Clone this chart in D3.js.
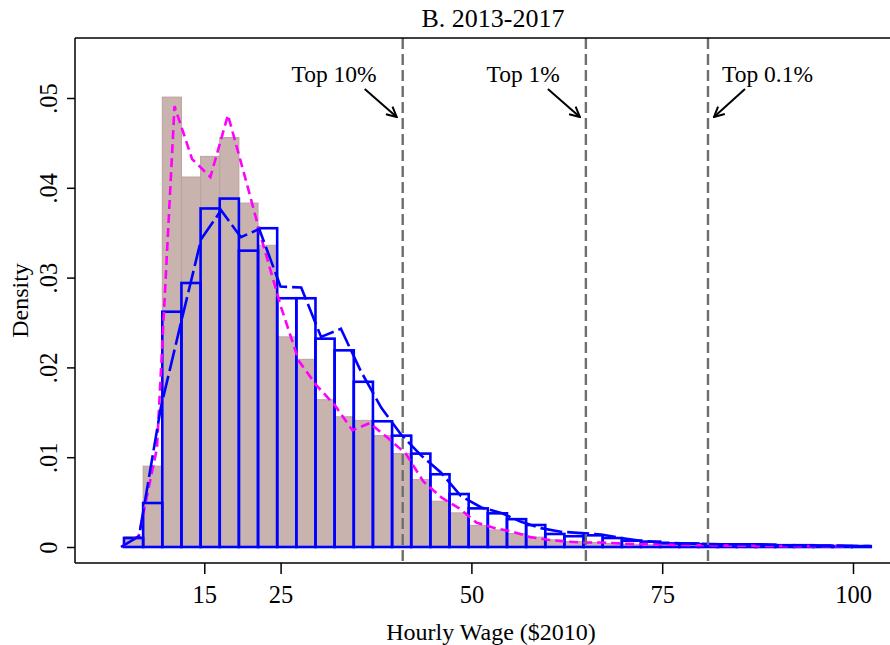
<!DOCTYPE html>
<html>
<head>
<meta charset="utf-8">
<script src="https://cdn.jsdelivr.net/npm/d3@7"></script>
<style>
  body { margin: 0; background: #fff; }
  text { font-family: "Liberation Serif", "Times New Roman", serif; fill: #000; }
</style>
</head>
<body>
<div id="chart"></div>
<script>
// histogram bins (hourly wage, $2010)
const binStart = 4.48;
const binWidth = 2.509;

// 2013-2017 sample: filled bars + magenta kdensity
const brownDensity = [0.00115, 0.0090, 0.0501, 0.0412, 0.0435, 0.0456, 0.0383, 0.0336, 0.0234, 0.0209,
  0.0164, 0.0145, 0.0141, 0.0124, 0.0104, 0.0075, 0.0051, 0.0038, 0.0024, 0.0019,
  0.0015, 0.0011, 0.0008, 0.0006, 0.0005, 0.0004, 0.0003, 0.00025, 0.0002, 0.00015,
  0.00012, 0.0001, 0.0001, 0.00008, 0.00006, 0.00005, 0.00004, 0.00003, 0.00003];

// outlined blue bars
const blueDensity = [0.0010, 0.0049, 0.0262, 0.0294, 0.0377, 0.0388, 0.0330, 0.0355, 0.0277, 0.0277,
  0.0232, 0.0219, 0.0184, 0.0140, 0.0124, 0.0104, 0.0081, 0.0059, 0.0043, 0.00375,
  0.0031, 0.00245, 0.00145, 0.0012, 0.0013, 0.0010, 0.0007, 0.0006, 0.0004, 0.0004,
  0.0003, 0.0003, 0.0003, 0.00025, 0.0002, 0.0002, 0.00015, 0.0001, 0.0001];

// magenta dashed kdensity
const magentaWage = [4.1, 6.4, 8.8, 11.1, 13.4, 15.8, 18.1, 20.4, 22.7, 25.1,
  27.4, 29.7, 32.1, 34.4, 36.7, 39.1, 41.4, 43.7, 46.1, 48.4,
  50.7, 53.1, 55.4, 57.7, 60.1, 62.4, 64.7, 67.0, 69.4, 71.7,
  74.0, 76.4, 78.7, 81.0, 83.4, 85.7, 88.0, 90.4, 92.7, 95.0, 97.4, 99.7];
const magentaDensity = [0, 0.0012, 0.011, 0.0491, 0.0432, 0.0412, 0.0481, 0.041, 0.0337, 0.0266,
  0.0207, 0.018, 0.0158, 0.013, 0.0138, 0.0121, 0.0104, 0.0073, 0.0055, 0.0043,
  0.0027, 0.0021, 0.0017, 0.0011, 0.0008, 0.0006, 0.0005, 0.0005, 0.0004, 0.0003,
  0.0003, 0.00025, 0.0002, 0.0002, 0.00015, 0.00015, 0.00012, 0.0001, 0.0001, 0.0001, 0.0001, 0.00008];

// blue long-dash kdensity
const blueWage = [4.1, 6.45, 9.3, 11.95, 14.6, 17.2, 19.8, 22.2, 25.0, 27.7,
  30.3, 32.9, 35.5, 38.2, 40.8, 43.4, 46.0, 48.6, 51.3, 53.9,
  56.5, 59.1, 61.7, 64.4, 67.0, 69.6, 72.2, 74.8, 77.5, 80.1,
  82.7, 85.3, 87.9, 90.6, 93.2, 95.8, 98.4, 101.0, 102.2];
const blueLineDensity = [0, 0.0012, 0.0155, 0.025, 0.0343, 0.0375, 0.0345, 0.0354, 0.029, 0.0289,
  0.0234, 0.0243, 0.0196, 0.0155, 0.0125, 0.0102, 0.0083, 0.0057, 0.0044, 0.0038,
  0.0028, 0.0021, 0.0017, 0.00155, 0.0014, 0.0010, 0.0007, 0.0005, 0.0004, 0.00035,
  0.0003, 0.0003, 0.0003, 0.0002, 0.0002, 0.00015, 0.00015, 0.0001, 0.0001];

// percentile cut-offs
const cutLabels = ["Top 10%", "Top 1%", "Top 0.1%"];
const cutWages = [41, 65, 81];

const xTicks = [15, 25, 50, 75, 100];
const yTicks = [0, 0.01, 0.02, 0.03, 0.04, 0.05];

// ---------------- layout ----------------
const width = 890, height = 645;
const frame = {left: 75, top: 38, right: 890, bottom: 563};

const svg = d3.select("#chart").append("svg")
    .attr("width", width)
    .attr("height", height);

const x = d3.scaleLinear().domain([0, 100]).range([89.8, 853]);
const y = d3.scaleLinear().domain([0, 0.05]).range([547, 98]);

const bins = brownDensity.map((d, i) => ({
    x0: binStart + i * binWidth,
    x1: binStart + (i + 1) * binWidth,
    brown: d,
    blue: blueDensity[i]
}));

// filled bars
svg.append("g").selectAll("rect")
    .data(bins)
    .join("rect")
    .attr("x", d => x(d.x0))
    .attr("y", d => y(d.brown))
    .attr("width", d => x(d.x1) - x(d.x0))
    .attr("height", d => y(0) - y(d.brown))
    .attr("fill", "#c9b3ae")
    .attr("stroke", "#bca39c")
    .attr("stroke-width", 1);

// outlined bars
svg.append("g").selectAll("rect")
    .data(bins)
    .join("rect")
    .attr("x", d => x(d.x0))
    .attr("y", d => y(d.blue))
    .attr("width", d => x(d.x1) - x(d.x0))
    .attr("height", d => y(0) - y(d.blue))
    .attr("fill", "none")
    .attr("stroke", "#0000ff")
    .attr("stroke-width", 2.6);

const line = d3.line().x(d => x(d[0])).y(d => y(d[1]));

svg.append("path")
    .datum(d3.zip(magentaWage, magentaDensity))
    .attr("d", line)
    .attr("fill", "none")
    .attr("stroke", "#ff00ff")
    .attr("stroke-width", 2.6)
    .attr("stroke-dasharray", "9,5");

svg.append("path")
    .datum(d3.zip(blueWage, blueLineDensity))
    .attr("d", line)
    .attr("fill", "none")
    .attr("stroke", "#0000ff")
    .attr("stroke-width", 2.6)
    .attr("stroke-dasharray", "22,5");

// cut-off lines
svg.append("g").selectAll("line")
    .data(cutWages)
    .join("line")
    .attr("x1", d => x(d)).attr("x2", d => x(d))
    .attr("y1", frame.top).attr("y2", frame.bottom)
    .attr("stroke", "#6e6e6e")
    .attr("stroke-width", 2.4)
    .attr("stroke-dasharray", "11,5");

// arrows + labels
const defs = svg.append("defs");
defs.append("marker")
    .attr("id", "arrow")
    .attr("markerUnits", "userSpaceOnUse")
    .attr("viewBox", "0 0 12 12")
    .attr("refX", 11).attr("refY", 6)
    .attr("markerWidth", 12).attr("markerHeight", 12)
    .attr("orient", "auto")
    .append("path")
    .attr("d", "M1,1 L11,6 L1,11")
    .attr("fill", "none")
    .attr("stroke", "#000")
    .attr("stroke-width", 2);

const annot = svg.append("g");
cutWages.forEach((w, i) => {
    const cx = x(w);
    const leftSide = i < 2;
    annot.append("text")
        .attr("x", leftSide ? cx - 26 : cx + 14)
        .attr("y", 82)
        .attr("text-anchor", leftSide ? "end" : "start")
        .style("font-size", "23.5px")
        .text(cutLabels[i]);
    annot.append("line")
        .attr("x1", leftSide ? cx - 38 : cx + 37)
        .attr("y1", 89)
        .attr("x2", leftSide ? cx - 6 : cx + 6)
        .attr("y2", 117)
        .attr("stroke", "#000")
        .attr("stroke-width", 2)
        .attr("marker-end", "url(#arrow)");
});

// frame lines
svg.append("line")
    .attr("x1", frame.left).attr("x2", frame.right)
    .attr("y1", frame.top).attr("y2", frame.top)
    .attr("stroke", "#000").attr("stroke-width", 1.5);

// x axis
const xAxis = svg.append("g")
    .attr("transform", `translate(0, ${frame.bottom})`)
    .call(d3.axisBottom(x).tickValues(xTicks).tickSize(11).tickPadding(6).tickFormat(d3.format("d")));
xAxis.select(".domain").remove();
xAxis.selectAll(".tick line").attr("stroke", "#000").attr("stroke-width", 1.5);
xAxis.selectAll(".tick text")
    .style("font-size", "24.5px")
    .style("font-family", "'Liberation Serif', serif")
    .attr("dy", "0.95em");
svg.append("line")
    .attr("x1", frame.left).attr("x2", frame.right)
    .attr("y1", frame.bottom).attr("y2", frame.bottom)
    .attr("stroke", "#000").attr("stroke-width", 1.5);

// y axis
const yAxis = svg.append("g")
    .attr("transform", `translate(${frame.left}, 0)`)
    .call(d3.axisLeft(y).tickValues(yTicks).tickSize(8)
        .tickFormat(d => d === 0 ? "0" : d3.format(".2f")(d).replace(/^0/, "")));
yAxis.select(".domain").remove();
yAxis.selectAll(".tick line").attr("stroke", "#000").attr("stroke-width", 1.5);
yAxis.selectAll(".tick text")
    .style("font-size", "24.5px")
    .style("font-family", "'Liberation Serif', serif")
    .attr("x", 0).attr("dy", 0)
    .attr("text-anchor", "middle")
    .attr("transform", "translate(-18, 0) rotate(-90)");
svg.append("line")
    .attr("x1", frame.left).attr("x2", frame.left)
    .attr("y1", frame.top).attr("y2", frame.bottom)
    .attr("stroke", "#000").attr("stroke-width", 1.5);

// titles
svg.append("text")
    .attr("x", 493).attr("y", 27)
    .attr("text-anchor", "middle")
    .style("font-size", "26px")
    .text("B. 2013-2017");

svg.append("text")
    .attr("x", 491).attr("y", 640)
    .attr("text-anchor", "middle")
    .style("font-size", "24px")
    .text("Hourly Wage ($2010)");

svg.append("text")
    .attr("transform", `translate(28, ${(frame.top + frame.bottom) / 2}) rotate(-90)`)
    .attr("text-anchor", "middle")
    .style("font-size", "24px")
    .text("Density");
</script>
</body>
</html>
